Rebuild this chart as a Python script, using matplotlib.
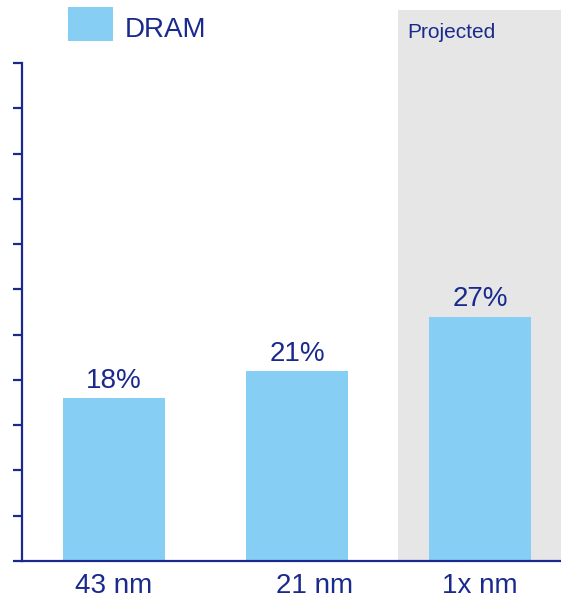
import matplotlib.pyplot as plt
import matplotlib.transforms as mtransforms
from matplotlib.patches import Rectangle

plt.rcParams['font.family'] = ['Liberation Sans', 'DejaVu Sans']

# data
nodes = ['43 nm', '21 nm', '1x nm']
dram_share = [18, 21, 27]
series_name = 'DRAM'
projected_label = 'Projected'

text_color = '#1a2a8c'
bar_color = '#87cef4'
shade_color = '#e6e6e6'

fig = plt.figure(figsize=(5.61, 5.99), dpi=100)
ax = fig.add_axes([22 / 561, 38 / 599, 1 - 22 / 561, 498 / 599])

x = range(len(nodes))
ax.bar(x, dram_share, width=0.557, color=bar_color, zorder=2)

# shaded "projected" region, extends above the plot area
ax.add_patch(Rectangle((1.552, 0), 2, 60.9, facecolor=shade_color,
                       edgecolor='none', clip_on=False, zorder=0))

for xi, v in zip(x, dram_share):
    ax.annotate(f'{v}%', (xi, v), xytext=(0, 3), textcoords='offset points',
                ha='center', va='bottom', fontsize=20, color=text_color)

ax.set_xlim(-0.503, 2.443)
ax.set_ylim(0, 55)
ax.set_yticks(range(0, 56, 5))
ax.set_yticklabels([])
ax.set_xticks(list(x))
ax.set_xticklabels(nodes, fontsize=20, color=text_color)
ax.tick_params(axis='x', length=0, pad=8.5)
ax.tick_params(axis='y', length=6.5, width=1.6, color=text_color, direction='out')

# the middle label sits a bit to the right in the original
lbl = ax.get_xticklabels()[1]
lbl.set_transform(lbl.get_transform() + mtransforms.ScaledTranslation(18 / 100, 0, fig.dpi_scale_trans))

for side in ['top', 'right']:
    ax.spines[side].set_visible(False)
for side in ['left', 'bottom']:
    ax.spines[side].set_color(text_color)
    ax.spines[side].set_linewidth(1.6)
ax.spines['left'].set_zorder(3)
ax.spines['bottom'].set_zorder(3)
ax.set_facecolor('none')

# legend swatch and label
fig.patches.append(Rectangle((68 / 561, 1 - 41 / 599), 45 / 561, 34 / 599,
                             facecolor=bar_color, edgecolor='none',
                             transform=fig.transFigure, figure=fig))
fig.text(125 / 561, 1 - 30 / 599, series_name, fontsize=20, color=text_color,
         ha='left', va='center')
fig.text(407 / 561, 1 - 33 / 599, projected_label, fontsize=15, color=text_color,
         ha='left', va='center')

fig.savefig('out.png', dpi=100)
